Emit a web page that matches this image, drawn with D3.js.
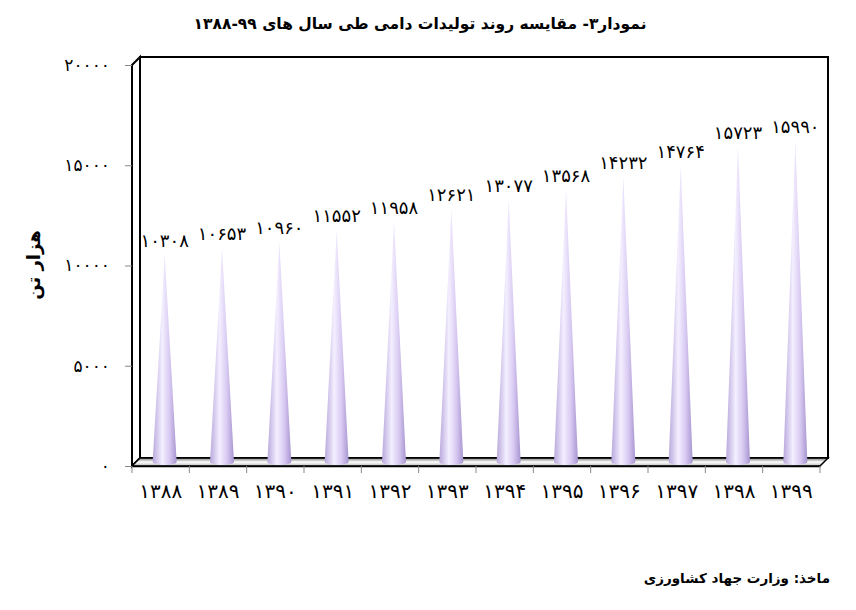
<!DOCTYPE html>
<html><head><meta charset="utf-8">
<script src="https://cdn.jsdelivr.net/npm/d3@7"></script>
<style>body{margin:0;background:#fff}</style></head>
<body><svg id="c" width="856" height="610"></svg>
<script>
const years=["۱۳۸۸","۱۳۸۹","۱۳۹۰","۱۳۹۱","۱۳۹۲","۱۳۹۳","۱۳۹۴","۱۳۹۵","۱۳۹۶","۱۳۹۷","۱۳۹۸","۱۳۹۹"];
const values=[10308,10653,10960,11552,11958,12621,13077,13568,14232,14764,15723,15990];
const yTicks=[0,5000,10000,15000,20000];
const fa=n=>String(n).replace(/\d/g,d=>"۰۱۲۳۴۵۶۷۸۹"[d]);
const svg=d3.select("#c");
const F="DejaVu Sans";
const L=132,R=820,T=65,B=466,dx=8,dy=-8;
const x=d3.scaleBand().domain(years).range([L,R]);
const y=d3.scaleLinear().domain([0,20000]).range([B,T]);
const defs=svg.append("defs");
const g=defs.append("linearGradient").attr("id","cg");
[["0%","#b8a8dc"],["40%","#f4efff"],["70%","#d8caf2"],["100%","#a795d0"]].forEach(s=>g.append("stop").attr("offset",s[0]).attr("stop-color",s[1]));
const fg=defs.append("linearGradient").attr("id","fg").attr("x1",0).attr("x2",0).attr("y1",0).attr("y2",1);
[["0%","#777"],["50%","#fff"],["100%","#bbb"]].forEach(s=>fg.append("stop").attr("offset",s[0]).attr("stop-color",s[1]));
svg.append("rect").attr("x",L+dx).attr("y",T+dy).attr("width",R-L).attr("height",B-T).attr("fill","none").attr("stroke","#000").attr("stroke-width",2);
svg.append("path").attr("d",`M${L},${T}L${L+dx},${T+dy}L${L+dx},${B+dy}L${L},${B}Z`).attr("fill","#fff").attr("stroke","#000").attr("stroke-width",2);
svg.append("path").attr("d",`M${L},${B}L${L+dx},${B+dy}L${R+dx},${B+dy}L${R},${B}Z`).attr("fill","url(#fg)").attr("stroke","#000").attr("stroke-width",1.5);
const cx=d=>x(d)+x.bandwidth()/2+dx/2;
svg.selectAll(".cone").data(values).enter().append("path")
 .attr("d",(v,i)=>{const c=cx(years[i]);const by=B+dy/2;const ty=y(v)+dy/2;return `M${c-12},${by}L${c},${ty}L${c+12},${by}A12,3 0 0 1 ${c-12},${by}Z`;})
 .attr("fill","url(#cg)");
svg.selectAll(".vl").data(values).enter().append("text")
 .attr("x",(v,i)=>cx(years[i])).attr("y",v=>y(v)+dy/2-8).attr("text-anchor","middle")
 .attr("font-family",F).attr("font-size",18).text(v=>fa(v));
const ya=svg.append("g").attr("transform",`translate(${L},0)`).call(d3.axisLeft(y).tickValues(yTicks).tickSize(7).tickFormat(fa));
ya.select(".domain").remove();
ya.selectAll("line").attr("stroke","#888");
ya.selectAll("text").attr("font-family",F).attr("font-size",17).attr("dx",-12).attr("fill","#000");
const xa=svg.append("g").attr("transform",`translate(0,${B})`).call(d3.axisBottom(x).tickSize(0).tickFormat(d=>d));
xa.select(".domain").attr("stroke","#000").attr("stroke-width",1.5);
xa.selectAll("text").attr("font-family",F).attr("font-size",20).attr("dy",29).attr("fill","#000");
svg.append("g").selectAll("line").data(d3.range(13)).enter().append("line")
 .attr("x1",i=>L+i*x.step()).attr("x2",i=>L+i*x.step()).attr("y1",B).attr("y2",B+7).attr("stroke","#888");
svg.append("text").attr("x",420).attr("y",29).attr("text-anchor","middle").attr("font-family",F).attr("font-weight","bold").attr("font-size",15.5).attr("direction","rtl").text("نمودار۳- مقایسه روند تولیدات دامی طی سال های ۹۹-۱۳۸۸");
svg.append("text").attr("transform","translate(40,265) rotate(-90)").attr("text-anchor","middle").attr("font-family",F).attr("font-weight","bold").attr("font-size",18).attr("direction","rtl").text("هزار تن");
svg.append("text").attr("x",830).attr("y",583).attr("text-anchor","start").attr("font-family",F).attr("font-weight","bold").attr("font-size",13.5).attr("direction","rtl").text("ماخذ: وزارت جهاد کشاورزی");
</script></body></html>
